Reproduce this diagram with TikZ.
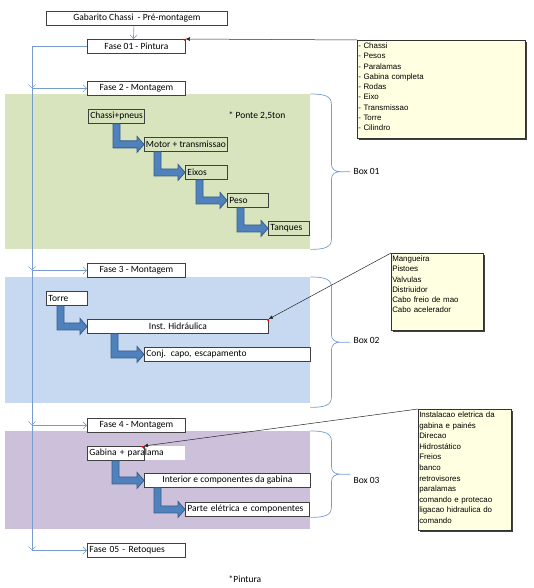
\documentclass[tikz,border=0pt]{standalone}
\usepackage{fontspec}
\setmainfont{Carlito}
\newfontfamily\notefont{Liberation Sans}
\usepackage{xcolor}
\usetikzlibrary{arrows.meta,calc,shadows}
\definecolor{boxgreen}{RGB}{215,228,189}
\definecolor{boxblue}{RGB}{198,217,241}
\definecolor{boxlilac}{RGB}{204,192,218}
\definecolor{flowblue}{RGB}{120,156,205}
\definecolor{arrowfill}{RGB}{79,129,189}
\definecolor{arrowline}{RGB}{56,93,138}
\definecolor{cellline}{RGB}{64,64,64}
\definecolor{notefill}{RGB}{255,255,225}

\begin{document}
\begin{tikzpicture}[x=1pt,y=-1pt,
    cell/.style={draw=cellline, line width=0.8pt, fill=white, anchor=north west,
      inner xsep=2pt, inner ysep=0pt, minimum height=14pt,
      font=\fontsize{9.5}{11}\selectfont},
    ccell/.style={cell, minimum width=#1},
    lcell/.style={cell, text width=#1, align=left},
    region/.style={anchor=north west, inner sep=0pt, draw=none},
    note/.style={draw=black!80, line width=0.5pt, fill=notefill, anchor=north west,
      inner xsep=1pt, inner ysep=2.5pt, align=left, font=\notefont\fontsize{7.9}{10.3}\selectfont,
      drop shadow={shadow xshift=1.5pt, shadow yshift=-1.5pt, fill=black!75, opacity=1}},
    flow/.style={draw=flowblue, line width=0.6pt, -{Straight Barb[length=3.5pt,width=7pt]}},
    pointer/.style={draw=black!85, line width=0.5pt, -{Triangle[length=4pt,width=3.5pt]}},
    bendarrow/.style={fill=arrowfill, draw=arrowline, line width=0.8pt, line join=miter},
    braceline/.style={draw=flowblue, line width=0.7pt},
    remark/.style={font=\fontsize{9.5}{11}\selectfont, inner sep=0pt}]

      \useasboundingbox (0,0) rectangle (534,588);

      % Bent block arrow from a point under one cell to the west side of the next
      \def\bendarrow#1#2{%
        \path[bendarrow] let \p1=(#1), \p2=(#2) in
          (\x1,\y1) -- (\x1+7pt,\y1) -- (\x1+7pt,\y2+3.5pt) -- (\x2-7pt,\y2+3.5pt)
          -- (\x2-7pt,\y2+8pt) -- (\x2,\y2) -- (\x2-7pt,\y2-8pt) -- (\x2-7pt,\y2-3.5pt)
          -- (\x1,\y2-3.5pt) -- cycle;}

      % Curly brace on the right of a box
      \def\sidebrace#1#2{%
        \path[braceline] let \p1=(#1), \p2=(#2), \p3=($(#1)!0.5!(#2)$) in
          (\x1,\y1) .. controls (\x1+14pt,\y1) and (\x1+21pt,\y1-2pt) .. (\x1+21pt,\y1-10pt)
          -- (\x1+21pt,\y3+8pt) .. controls (\x1+21pt,\y3+2pt) and (\x1+25pt,\y3) .. (\x1+30pt,\y3)
          -- (\x1+40pt,\y3)
          (\x1+30pt,\y3) .. controls (\x1+25pt,\y3) and (\x1+21pt,\y3-2pt) .. (\x1+21pt,\y3-8pt)
          -- (\x1+21pt,\y2+10pt) .. controls (\x1+21pt,\y2+2pt) and (\x1+14pt,\y2) .. (\x1,\y2);}

      % Coloured boxes
      \node[region, fill=boxgreen, minimum width=305pt, minimum height=155pt] (box1) at (5,94) {};
      \node[region, fill=boxblue, minimum width=305pt, minimum height=126pt] (box2) at (5,277) {};
      \node[region, fill=boxlilac, minimum width=305pt, minimum height=98pt] (box3) at (5,431) {};

      % Phases
      \node[ccell=181pt] (gabarito) at (46,11) {Gabarito Chassi\ \ - Pré-montagem};
      \node[ccell=98pt] (fase1) at (87,39) {Fase 01 - Pintura};
      \node[ccell=98pt] (fase2) at (87,81) {Fase 2 - Montagem};
      \node[ccell=98pt] (fase3) at (87,263) {Fase 3 - Montagem};
      \node[ccell=98pt] (fase4) at (87,418) {Fase 4 - Montagem};
      \node[lcell=94pt] (fase5) at (87,543) {Fase 05 - Retoques};

      % Flow lines
      \draw[flow] ($(gabarito.south)+(-3,0)$) -- ($(fase1.north)+(-3,0)$);
      \foreach \f in {2,3,4,5} {
        \coordinate (c\f) at ($(fase\f.west)+(-55,0)$);
        \draw[flow] (fase1.west) -| (c\f);
        \draw[flow] (c\f) -- (fase\f.west);
      }

      % Box 01
      \node[lcell=52pt, fill=boxgreen] (chassi) at (88,109) {Chassi+pneus};
      \node[ccell=83pt, fill=boxgreen, inner xsep=1pt] (motor) at (144,137) {Motor + transmissao};
      \node[lcell=38pt, fill=boxgreen] (eixos) at (185,165) {Eixos};
      \node[lcell=37pt, fill=boxgreen] (peso) at (227,193) {Peso};
      \node[lcell=37pt, fill=boxgreen] (tanques) at (268,221) {Tanques};
      \node[remark] (ponte) at (257,116) {* Ponte 2,5ton};
      \bendarrow{$(chassi.south west)+(25,0)$}{motor.west}
      \bendarrow{$(motor.south west)+(10,0)$}{eixos.west}
      \bendarrow{$(eixos.south west)+(11,0)$}{peso.west}
      \bendarrow{$(peso.south west)+(10,0)$}{tanques.west}

      % Box 02
      \node[lcell=37pt] (torre) at (46,291) {Torre};
      \node[ccell=181pt] (hidraulica) at (87,319) {Inst. Hidráulica};
      \node[lcell=162pt] (capo) at (144,347) {Conj. capo, escapamento};
      \bendarrow{$(torre.south west)+(11,0)$}{hidraulica.west}
      \bendarrow{$(hidraulica.south west)+(24,0)$}{capo.west}

      % Box 03
      \node[lcell=94pt, draw=none] (gabina) at (87,446) {Gabina + paralama};
      \coordinate (gabend) at ($(gabina.north west)+(57,0)$);
      \draw[cellline, line width=0.8pt] (gabina.north west) rectangle ($(gabina.south west)+(57,0)$);
      \node[ccell=166pt] (interior) at (144,473) {Interior e componentes da gabina};
      \node[lcell=120pt] (eletrica) at (185,502) {Parte elétrica e componentes};
      \bendarrow{$(gabina.south west)+(25,0)$}{interior.west}
      \bendarrow{$(interior.south west)+(10,0)$}{eletrica.west}

      \node[remark] (pintura) at (245,579) {*Pintura};

      % Braces and their labels
      \coordinate (b2end) at ($(box2.south east)+(0,4)$);
      \coordinate (b3end) at ($(box3.south east)+(0,-12)$);
      \sidebrace{box1.north east}{box1.south east}
      \sidebrace{box2.north east}{b2end}
      \sidebrace{box3.north east}{b3end}
      \node[remark, anchor=west] (lab1) at ($(box1.east)+(43,0)$) {Box 01};
      \node[remark, anchor=west] (lab2) at ($(box2.east)+(43,0)$) {Box 02};
      \node[remark, anchor=west] (lab3) at ($(box3.east)+(43,0)$) {Box 03};

      % Notes
      \node[note, text width=166pt] (note1) at (357,40)
        {- Chassi\\- Pesos\\- Paralamas\\- Gabina completa\\- Rodas\\- Eixo\\
         - Transmissao\\- Torre\\- Cilindro\\[-5.4pt]\mbox{}};
      \node[note, text width=90pt] (note2) at (391,253)
        {Mangueira\\Pistoes\\Valvulas\\Distriuidor\\Cabo freio de mao\\
         Cabo acelerador\\[4.5pt]\mbox{}};
      \node[note, text width=91pt, font=\notefont\fontsize{7.9}{10.6}\selectfont] (note3) at (418,409)
        {Instalacao eletrica da\\gabina e painés\\Direcao\\Hidrostático\\Freios\\banco\\
         retrovisores\\paralamas\\comando e protecao\\ligacao hidraulica do\\
         comando\\[-6.3pt]\mbox{}};

      % Note pointers
      \draw[pointer] (note1.north west) -- (fase1.north east);
      \draw[pointer] (note2.north west) -- (hidraulica.north east);
      \draw[pointer] (note3.north west) -- (gabend);

      % Red comment marks
      \foreach \c in {fase1.north east, hidraulica.north east, gabend} {
        \fill[red] (\c) -- ++(-3,0) -- ++(3,3) -- cycle;
      }
    \end{tikzpicture}
\end{document}
